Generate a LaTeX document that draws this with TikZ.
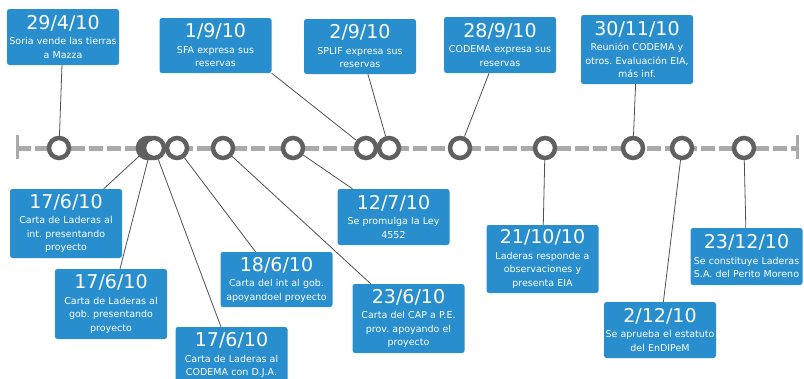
\documentclass[tikz,border=0pt]{standalone}
\usepackage{fontspec}
\setmainfont{DejaVu Sans}

\definecolor{azul}{RGB}{40,142,206}
\definecolor{grisaro}{RGB}{96,96,96}
\definecolor{grislin}{RGB}{170,170,170}
\definecolor{grisfil}{RGB}{80,80,80}

\tikzset{
  caja/.style={fill=azul, rounded corners=2.5pt, text=white, text width=112pt,
    inner xsep=0pt, inner ysep=2pt, align=center,
    font=\fontsize{9.5}{13.5}\selectfont},
  aro/.style={circle, draw=grisaro, line width=4.5pt, fill=white,
    minimum size=20pt, inner sep=0pt},
  fil/.style={draw=grisfil, line width=0.8pt},
}
\newcommand{\fecha}[1]{{\fontsize{19}{19}\selectfont #1}\\[2pt]}

\begin{document}
\frenchspacing
\begin{tikzpicture}[x=1pt,y=-1pt]
\useasboundingbox (0,0) rectangle (804,378);
\clip (0,0) rectangle (804,378);

% linea del tiempo
\coordinate (ini) at (17,148);
\coordinate (fin) at (797,148);
\draw [grislin, line width=5pt, dash pattern=on 14pt off 4pt] (ini) -- (fin);
\draw [grislin, line width=3pt] ([yshift=-11pt]ini) -- ([yshift=13pt]ini);
\draw [grislin, line width=3pt] ([yshift=-11pt]fin) -- ([yshift=13pt]fin);

% los puntos (los tres del 17/6 casi juntos)
\foreach \n/\x in {1/59,2/148,3/151,4/154,5/177,6/223,7/293,8/366,9/389,10/460,11/545,12/633,13/682,14/744}
    \node [aro] (c\n) at (\x,148) {};

% arriba
\node [caja, minimum height=56pt] (b1) at (63,37) {\fecha{29/4/10}Soria vende las tierras\\a Mazza};
\node [caja, minimum height=55pt] (b2) at (215.5,45.5) {\fecha{1/9/10}SFA expresa sus\\reservas};
\node [caja, minimum height=55pt] (b3) at (360,46.5) {\fecha{2/9/10}SPLIF expresa sus\\reservas};
\node [caja, minimum height=56pt] (b4) at (500,45) {\fecha{28/9/10}CODEMA expresa sus\\reservas};
\node [caja, minimum height=69pt] (b5) at (637,49.5) {\fecha{30/11/10}Reunión CODEMA y\\otros. Evaluación EIA,\\más inf.};

% abajo
\node [caja, minimum height=69pt] (b6) at (66,223.5) {\fecha{17/6/10}Carta de Laderas al\\int. presentando\\proyecto};
\node [caja, minimum height=70pt] (b7) at (111,304) {\fecha{17/6/10}Carta de Laderas al\\gob. presentando\\proyecto};
\node [caja, minimum height=56pt] (b8) at (231.5,355) {\fecha{17/6/10}Carta de Laderas al\\CODEMA con D.J.A.};
\node [caja, minimum height=55pt] (b9) at (276.5,279.5) {\fecha{18/6/10}Carta del int al gob.\\apoyandoel proyecto};
\node [caja, minimum height=69pt] (b10) at (408.5,318.5) {\fecha{23/6/10}Carta del CAP a P.E.\\prov. apoyando el\\proyecto};
\node [caja, minimum height=56pt] (b11) at (393.5,217) {\fecha{12/7/10}Se promulga la Ley\\4552};
\node [caja, minimum height=68pt] (b12) at (542.5,259) {\fecha{21/10/10}Laderas responde a\\observaciones y\\presenta EIA};
\node [caja, minimum height=56pt] (b13) at (660,330) {\fecha{2/12/10}Se aprueba el estatuto\\del EnDIPeM};
\node [caja, minimum height=57pt] (b14) at (746.5,256.5) {\fecha{23/12/10}Se constituye Laderas\\S.A. del Perito Moreno};

% hilos
\foreach \b/\c in {b1/c1,b2.south east/c8,b3/c9,b4/c10,b5/c12,b6/c2,b7/c3,b8/c4,b9/c5,b10/c6,b11/c7,b12/c11,b13/c13,b14/c14}
    \draw [fil] (\b) -- (\c);

\end{tikzpicture}
\end{document}
